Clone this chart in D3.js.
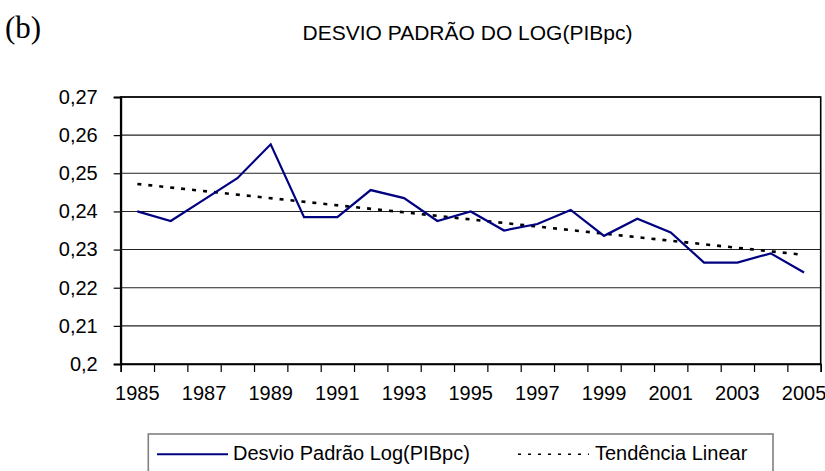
<!DOCTYPE html>
<html>
<head>
<meta charset="utf-8">
<script src="https://cdn.jsdelivr.net/npm/d3@7"></script>
<style>
  html, body { margin: 0; padding: 0; background: #fff; }
  svg { display: block; }
</style>
</head>
<body>
<svg id="chart" width="825" height="471" font-family="Liberation Sans, Arial, sans-serif"></svg>
<script>
// ---- Data ----
const years = [1985, 1986, 1987, 1988, 1989, 1990, 1991, 1992, 1993, 1994, 1995,
               1996, 1997, 1998, 1999, 2000, 2001, 2002, 2003, 2004, 2005];
const desvioValues = [0.2400, 0.2375, 0.2431, 0.2487, 0.2576, 0.2385, 0.2385, 0.2456, 0.2435, 0.2375, 0.2400,
                      0.2350, 0.2367, 0.2404, 0.2336, 0.2381, 0.2345, 0.2266, 0.2266, 0.2290, 0.2240];
const trendYears = [1985, 2005];
const trendValues = [0.2472, 0.2286];
const yTicks = [0.2, 0.21, 0.22, 0.23, 0.24, 0.25, 0.26, 0.27];
const xLabelYears = [1985, 1987, 1989, 1991, 1993, 1995, 1997, 1999, 2001, 2003, 2005];
const seriesNames = ["Desvio Padrão Log(PIBpc)", "Tendência Linear"];
const chartTitle = "DESVIO PADRÃO DO LOG(PIBpc)";
const panelLabel = "(b)";

// ---- Layout ----
const svg = d3.select("#chart");
const SANS = "Liberation Sans, Arial, sans-serif";
const SERIF = "Liberation Serif, Times New Roman, serif";
const pLeft = 120.7, pRight = 820.7, pTop = 97, pBottom = 364;

const x = d3.scaleBand().domain(years).range([pLeft, pRight]).paddingInner(0).paddingOuter(0);
const xc = d => x(d) + x.bandwidth() / 2;
const y = d3.scaleLinear().domain([0.2, 0.27]).range([pBottom, pTop]);

const loc = d3.formatLocale({decimal: ",", thousands: ".", grouping: [3], currency: ["", ""]});
const yFmt = loc.format(".2~f");

// Gridlines
svg.append("g").selectAll("line").data(yTicks.filter(v => v > 0.2)).join("line")
  .attr("x1", pLeft).attr("x2", pRight)
  .attr("y1", d => y(d)).attr("y2", d => y(d))
  .attr("stroke", "#222").attr("stroke-width", 1.1);

// Plot border
svg.append("rect").attr("x", pLeft).attr("y", pTop)
  .attr("width", pRight - pLeft).attr("height", pBottom - pTop)
  .attr("fill", "none").attr("stroke", "#000").attr("stroke-width", 1.6);

// Y axis
const yAxis = d3.axisLeft(y).tickValues(yTicks).tickSize(7).tickPadding(16).tickFormat(yFmt);
const gy = svg.append("g").attr("transform", `translate(${pLeft},0)`).call(yAxis);
gy.attr("font-family", SANS).attr("font-size", 20);
gy.select(".domain").attr("stroke", "#000").attr("stroke-width", 2);
gy.selectAll(".tick line").attr("stroke", "#000").attr("stroke-width", 1.2);
gy.selectAll("text").attr("fill", "#000");

// X axis: boundary ticks
const boundaries = years.map(d => x(d)).concat([x(years[years.length - 1]) + x.bandwidth()]);
const xs = d3.scaleLinear().domain([pLeft, pRight]).range([pLeft, pRight]);
const gx = svg.append("g").attr("transform", `translate(0,${pBottom})`)
  .call(d3.axisBottom(xs).tickValues(boundaries).tickSize(8).tickFormat(""));
gx.select(".domain").attr("stroke", "#000").attr("stroke-width", 1.6);
gx.selectAll(".tick line").attr("stroke", "#000").attr("stroke-width", 1.2);

// X labels
const gxl = svg.append("g").attr("transform", `translate(0,${pBottom})`)
  .call(d3.axisBottom(x).tickSize(0).tickPadding(22)
    .tickFormat(d => xLabelYears.includes(d) ? String(d) : ""));
gxl.attr("font-family", SANS).attr("font-size", 20);
gxl.select(".domain").remove();
gxl.selectAll("text").attr("fill", "#000");

// Trend line
const trendData = trendYears.map((yr, i) => ({yr, v: trendValues[i]}));
svg.append("path").datum(trendData)
  .attr("d", d3.line().x(d => xc(d.yr)).y(d => y(d.v)))
  .attr("fill", "none").attr("stroke", "#000").attr("stroke-width", 2.6)
  .attr("stroke-dasharray", "4,7");

// Series line
const seriesData = years.map((yr, i) => ({yr, v: desvioValues[i]}));
svg.append("path").datum(seriesData)
  .attr("d", d3.line().x(d => xc(d.yr)).y(d => y(d.v)))
  .attr("fill", "none").attr("stroke", "#000080").attr("stroke-width", 2.2)
  .attr("stroke-linejoin", "miter");

// Title
svg.append("text").attr("x", 467.5).attr("y", 40).attr("text-anchor", "middle")
  .attr("font-family", SANS).attr("font-size", 21).text(chartTitle);

// Panel label
svg.append("text").attr("x", 5).attr("y", 38)
  .attr("font-family", SERIF).attr("font-size", 31).text(panelLabel);

// Legend
const lg = svg.append("g").attr("font-family", SANS).attr("font-size", 20);
lg.append("rect").attr("x", 148.3).attr("y", 434).attr("width", 624.7).attr("height", 50)
  .attr("fill", "#fff").attr("stroke", "#808080").attr("stroke-width", 1.6);
lg.append("line").attr("x1", 157).attr("x2", 228).attr("y1", 454.3).attr("y2", 454.3)
  .attr("stroke", "#000080").attr("stroke-width", 2);
lg.append("text").attr("x", 233).attr("y", 459.5).text(seriesNames[0]);
lg.append("line").attr("x1", 518).attr("x2", 589).attr("y1", 454.3).attr("y2", 454.3)
  .attr("stroke", "#000").attr("stroke-width", 1.4).attr("stroke-dasharray", "3,7");
lg.append("text").attr("x", 595).attr("y", 459.5).text(seriesNames[1]);
</script>
</body>
</html>
